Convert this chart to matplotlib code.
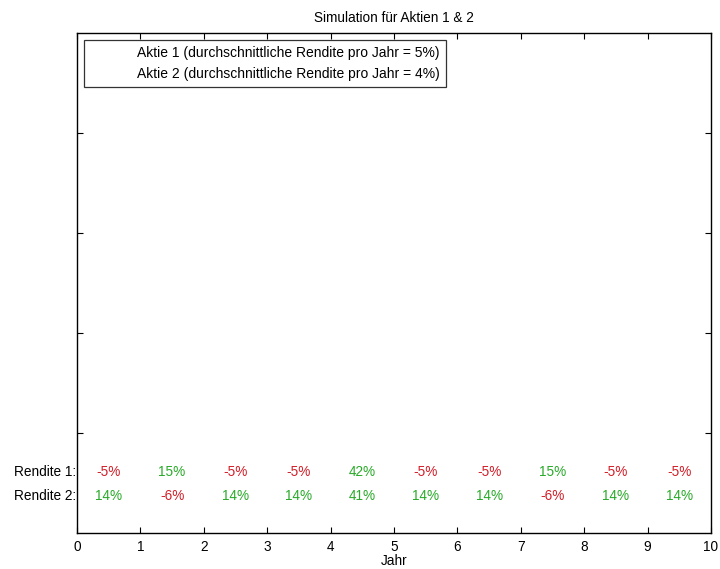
import matplotlib
matplotlib.use("Agg")
import matplotlib.pyplot as plt
from matplotlib.lines import Line2D

plt.rcParams['font.family'] = ['Liberation Sans', 'DejaVu Sans']

years = list(range(1, 11))
rendite_1 = [-5, 15, -5, -5, 42, -5, -5, 15, -5, -5]
rendite_2 = [14, -6, 14, 14, 41, 14, 14, -6, 14, 14]
series_labels = ["Aktie 1 (durchschnittliche Rendite pro Jahr = 5%)",
                 "Aktie 2 (durchschnittliche Rendite pro Jahr = 4%)"]
row_labels = ["Rendite 1:", "Rendite 2:"]
title = "Simulation für Aktien 1 & 2"
xlabel = "Jahr"

RED = "#d21e28"
GREEN = "#28aa28"
FS = 9.8

fig = plt.figure(figsize=(7.2, 5.69), dpi=100)
ax = fig.add_axes([77 / 720, 36 / 569, 634 / 720, 500 / 569])

ax.set_xlim(0, 10)
ax.set_ylim(0, 5)
ax.set_xticks(range(0, 11))
ax.set_yticks([1, 2, 3, 4])
ax.set_yticklabels([])
ax.tick_params(direction="in", top=True, right=True, length=4, width=0.8,
               labelsize=FS, pad=5)
for s in ax.spines.values():
    s.set_linewidth(1.0)

ax.set_title(title, fontsize=FS, pad=8)
ax.set_xlabel(xlabel, fontsize=FS, labelpad=0)

row_y = [0.61, 0.37]
for y, vals, lab in zip(row_y, [rendite_1, rendite_2], row_labels):
    ax.text(-0.01, y, lab, ha="right", va="center", fontsize=FS)
    for yr, v in zip(years, vals):
        ax.text(yr - 0.5, y, f"{v}%", ha="center", va="center", fontsize=FS,
                color=GREEN if v > 0 else RED)

handles = [Line2D([], [], linestyle="none", color="white") for _ in series_labels]
leg = ax.legend(handles, series_labels, loc="upper left",
                bbox_to_anchor=(0.011, 0.986), fontsize=10, frameon=True,
                fancybox=False, borderpad=0.45, handlelength=2.8,
                handletextpad=0.6, labelspacing=0.47, borderaxespad=0)
leg.get_frame().set_edgecolor("black")
leg.get_frame().set_linewidth(0.9)

fig.savefig("out.png", dpi=100)
